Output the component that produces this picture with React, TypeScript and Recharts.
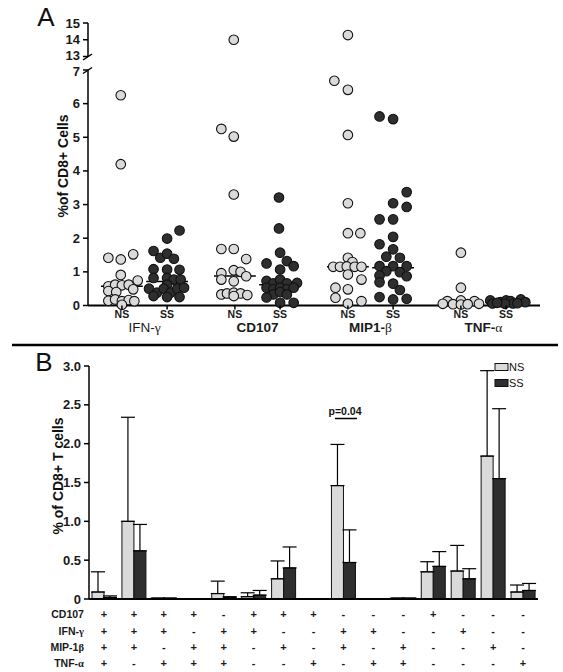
import React from "react";
import {
  Bar,
  BarChart,
  ErrorBar,
  ReferenceLine,
  Scatter,
  ScatterChart,
  XAxis,
  YAxis,
} from "recharts";

const FONT = "'Liberation Sans', Arial, sans-serif";
const GREEK = "'Liberation Serif', 'DejaVu Serif', serif";
const LIGHT = "#dadada";
const DARK = "#2e2e2e";

// ---------- panel A: single cytokine, dot plot ----------
// each point: [jitter position inside the group (0..1), % of CD8+ cells]
const ifnNS = [
  [0.29, 6.25], [0.29, 4.2], [0.18, 1.42], [0.29, 1.37], [0.4, 1.52], [0.29, 0.91],
  [0.44, 0.74], [0.18, 0.57], [0.24, 0.62], [0.3, 0.6], [0.36, 0.62], [0.18, 0.43],
  [0.25, 0.4], [0.4, 0.48], [0.18, 0.14], [0.24, 0.18], [0.3, 0.13], [0.36, 0.16],
  [0.41, 0.13], [0.3, 0.02],
];
const ifnSS = [
  [0.81, 2.23], [0.7, 1.99], [0.58, 1.62], [0.64, 1.42], [0.7, 1.54], [0.76, 1.39],
  [0.58, 1.08], [0.7, 1.07], [0.81, 1.06], [0.58, 0.82], [0.7, 0.82], [0.76, 0.77],
  [0.82, 0.77], [0.7, 0.62], [0.54, 0.5], [0.61, 0.38], [0.67, 0.5], [0.73, 0.38],
  [0.79, 0.5], [0.85, 0.53], [0.58, 0.28], [0.7, 0.25], [0.81, 0.25],
];
const cd107NS = [
  [0.29, 14.0], [0.18, 5.25], [0.29, 5.02], [0.29, 3.3], [0.18, 1.68], [0.29, 1.68],
  [0.4, 1.38], [0.29, 1.05], [0.18, 0.96], [0.35, 1.0], [0.4, 0.87], [0.18, 0.77],
  [0.29, 0.72], [0.18, 0.33], [0.23, 0.36], [0.29, 0.38], [0.35, 0.36], [0.41, 0.31],
  [0.29, 0.28],
];
const cd107SS = [
  [0.69, 3.21], [0.69, 2.29], [0.7, 1.57], [0.58, 1.25], [0.76, 1.32], [0.82, 1.17],
  [0.7, 1.07], [0.58, 0.73], [0.64, 0.66], [0.7, 0.77], [0.76, 0.66], [0.85, 0.67],
  [0.58, 0.53], [0.64, 0.48], [0.7, 0.53], [0.76, 0.48], [0.82, 0.53], [0.64, 0.33],
  [0.7, 0.4], [0.76, 0.33], [0.58, 0.24], [0.7, 0.08], [0.82, 0.08],
];
const mipNS = [
  [0.3, 14.28], [0.18, 6.68], [0.3, 6.41], [0.3, 5.07], [0.3, 3.04], [0.3, 2.15],
  [0.41, 2.15], [0.3, 1.42], [0.34, 1.29], [0.17, 1.15], [0.23, 1.15], [0.29, 1.16],
  [0.36, 1.15], [0.42, 1.15], [0.3, 0.92], [0.42, 0.77], [0.19, 0.53], [0.3, 0.48],
  [0.19, 0.23], [0.3, 0.06], [0.42, 0.13],
];
const mipSS = [
  [0.58, 5.62], [0.7, 5.54], [0.82, 3.37], [0.7, 3.04], [0.82, 2.93], [0.58, 2.56],
  [0.7, 2.56], [0.7, 2.04], [0.58, 1.82], [0.7, 1.67], [0.64, 1.45], [0.76, 1.42],
  [0.58, 1.17], [0.7, 1.17], [0.82, 1.17], [0.64, 1.02], [0.76, 0.99], [0.82, 0.87],
  [0.58, 0.89], [0.58, 0.69], [0.7, 0.65], [0.76, 0.46], [0.58, 0.25], [0.7, 0.18],
  [0.82, 0.2],
];
const tnfNS = [
  [0.3, 1.57], [0.3, 0.53], [0.18, 0.13], [0.3, 0.15], [0.42, 0.13], [0.14, 0.05],
  [0.23, 0.04], [0.3, 0.03], [0.36, 0.04], [0.46, 0.05],
];
const tnfSS = [
  [0.56, 0.15], [0.65, 0.1], [0.7, 0.15], [0.74, 0.13], [0.83, 0.18], [0.76, 0.06],
  [0.58, 0.06], [0.69, 0.05], [0.87, 0.1], [0.8, 0.07], [0.62, 0.08],
];
const medianNS = [0.57, 0.88, 1.15, 0.1];
const medianSS = [0.71, 0.62, 1.12, 0.1];

// ---------- panel B: cytokine combinations ----------
const cd107Row = ["+", "+", "+", "+", "-", "+", "+", "+", "-", "-", "-", "+", "-", "-", "-"];
const ifnRow = ["+", "+", "+", "-", "+", "+", "-", "-", "+", "+", "-", "-", "+", "-", "-"];
const mipRow = ["+", "+", "-", "+", "+", "-", "+", "-", "+", "-", "+", "-", "-", "+", "-"];
const tnfRow = ["+", "-", "+", "+", "+", "-", "-", "+", "-", "+", "+", "-", "-", "-", "+"];
const nsMean = [0.09, 1.0, 0.01, 0.005, 0.07, 0.03, 0.26, 0, 1.46, 0, 0.01, 0.35, 0.36, 1.84, 0.09];
const nsSd = [0.26, 1.34, 0, 0, 0.16, 0.05, 0.23, 0, 0.53, 0, 0, 0.13, 0.33, 1.1, 0.09];
const ssMean = [0.02, 0.62, 0.01, 0.005, 0.02, 0.05, 0.4, 0, 0.47, 0, 0.01, 0.42, 0.26, 1.55, 0.11];
const ssSd = [0.02, 0.34, 0, 0, 0.01, 0.06, 0.27, 0, 0.42, 0, 0, 0.19, 0.13, 0.9, 0.09];

const nsGroups = [ifnNS, cd107NS, mipNS, tnfNS];
const ssGroups = [ifnSS, cd107SS, mipSS, tnfSS];

const toPoints = (groups: number[][][]) =>
  groups.flatMap((pts, gi) => pts.map(([j, v]) => ({ x: gi + j, y: v })));

const nsPoints = toPoints(nsGroups);
const ssPoints = toPoints(ssGroups);

const barRows = nsMean.map((v, i) => ({
  combo: i,
  ns: v,
  ss: ssMean[i],
  nsErr: [0, nsSd[i]],
  ssErr: [0, ssSd[i]],
}));

const xTicksA = [0, 1, 2, 3].flatMap((g) => [g + 0.3, g + 0.5, g + 0.7]);

const dot = (fill: string) => (p: any) => (
  <circle cx={p.cx} cy={p.cy} r={4.8} fill={fill} stroke="#111" strokeWidth={1.1} />
);

function YTick(props: any) {
  const { x, y, payload, fmt, size } = props;
  const v = payload.value as number;
  // nudge the two labels on either side of the axis break apart
  const dy = v === 13 ? -1.5 : v === 7 ? 1.5 : 0;
  return (
    <text x={x} y={y + dy} textAnchor="end" dominantBaseline="central" fontSize={size || 13} fontWeight={700} fill="#1a1a1a" fontFamily={FONT}>
      {fmt ? fmt(v) : String(v)}
    </text>
  );
}

function groupLabel(gi: number) {
  if (gi === 0)
    return (
      <>
        <tspan fontWeight={400}>IFN-</tspan>
        <tspan fontFamily={GREEK} fontWeight={400}>γ</tspan>
      </>
    );
  if (gi === 1) return <tspan fontWeight={700}>CD107</tspan>;
  if (gi === 2)
    return (
      <>
        <tspan fontWeight={700}>MIP1-</tspan>
        <tspan fontFamily={GREEK} fontWeight={400}>β</tspan>
      </>
    );
  return (
    <>
      <tspan fontWeight={700}>TNF-</tspan>
      <tspan fontFamily={GREEK} fontWeight={400}>α</tspan>
    </>
  );
}

function GroupTick(props: any) {
  const { x, y, payload } = props;
  const v = payload.value as number;
  const gi = Math.floor(v);
  const f = Math.round((v - gi) * 10);
  if (f === 5) {
    return (
      <text x={x} y={y + 21} textAnchor="middle" dominantBaseline="central" fontSize={13.5} fill="#1a1a1a" fontFamily={FONT}>
        {groupLabel(gi)}
      </text>
    );
  }
  return (
    <g>
      <line x1={x} x2={x} y1={y} y2={y + 4} stroke="#000" strokeWidth={1.5} />
      <text x={x} y={y + 8} textAnchor="middle" dominantBaseline="central" fontSize={10.5} fontWeight={700} fill="#1a1a1a" fontFamily={FONT}>
        {f < 5 ? "NS" : "SS"}
      </text>
    </g>
  );
}

const rowNames = [
  <tspan key="c">CD107</tspan>,
  <>
    <tspan>IFN-</tspan>
    <tspan fontFamily={GREEK}>γ</tspan>
  </>,
  <>
    <tspan>MIP-1</tspan>
    <tspan fontFamily={GREEK}>β</tspan>
  </>,
  <>
    <tspan>TNF-</tspan>
    <tspan fontFamily={GREEK}>α</tspan>
  </>,
];
const rowOffsets = [15, 32, 48, 64];

function ComboTick(props: any) {
  const { x, y, payload } = props;
  const i = payload.value as number;
  const signs = [cd107Row[i], ifnRow[i], mipRow[i], tnfRow[i]];
  return (
    <g fontFamily={FONT} fontWeight={700} fill="#1a1a1a">
      {signs.map((s, r) => (
        <text key={r} x={x} y={y + rowOffsets[r]} textAnchor="middle" dominantBaseline="central" fontSize={11}>
          {s}
        </text>
      ))}
      {i === 0 &&
        rowNames.map((n, r) => (
          <text key={"n" + r} x={x - 20} y={y + rowOffsets[r]} textAnchor="end" dominantBaseline="central" fontSize={10.5}>
            {n}
          </text>
        ))}
    </g>
  );
}

const fmtB = (v: number) => (v === 0 ? "0" : v.toFixed(1));

export default function App() {
  const lowNS = nsPoints.filter((p) => p.y <= 7);
  const lowSS = ssPoints.filter((p) => p.y <= 7);
  const highNS = nsPoints.filter((p) => p.y > 7);
  const highSS = ssPoints.filter((p) => p.y > 7);

  return (
    <div style={{ position: "absolute", left: 0, top: 0, width: 563, height: 672, background: "#fff", fontFamily: FONT }}>
      {/* panel A, lower segment 0-7 */}
      <div style={{ position: "absolute", left: 0, top: 0 }}>
        <ScatterChart width={563} height={340} margin={{ top: 70, right: 23, bottom: 4.5, left: 48 }}>
          <XAxis
            type="number"
            dataKey="x"
            domain={[0, 4]}
            ticks={xTicksA}
            interval={0}
            tick={<GroupTick />}
            tickLine={false}
            tickSize={0}
            tickMargin={0}
            height={30}
            axisLine={{ stroke: "#000", strokeWidth: 2 }}
          />
          <YAxis
            type="number"
            dataKey="y"
            domain={[0, 7]}
            ticks={[0, 1, 2, 3, 4, 5, 6, 7]}
            interval={0}
            width={40}
            tick={<YTick />}
            tickSize={5}
            tickMargin={3}
            axisLine={{ stroke: "#000", strokeWidth: 1.5 }}
            tickLine={{ stroke: "#000", strokeWidth: 1.5 }}
          />
          <Scatter data={lowNS} shape={dot(LIGHT)} isAnimationActive={false} />
          <Scatter data={lowSS} shape={dot(DARK)} isAnimationActive={false} />
          {medianNS.map((m, g) => (
            <ReferenceLine key={"mn" + g} segment={[{ x: g + 0.115, y: m }, { x: g + 0.485, y: m }]} stroke="#000" strokeWidth={1.5} />
          ))}
          {medianSS.map((m, g) => (
            <ReferenceLine key={"ms" + g} segment={[{ x: g + 0.515, y: m }, { x: g + 0.885, y: m }]} stroke="#000" strokeWidth={1.5} />
          ))}
        </ScatterChart>
      </div>
      {/* panel A, upper segment 13-15 */}
      <div style={{ position: "absolute", left: 0, top: 0 }}>
        <ScatterChart width={563} height={80} margin={{ top: 23, right: 23, bottom: 23.5, left: 48 }}>
          <XAxis type="number" dataKey="x" domain={[0, 4]} hide height={0} />
          <YAxis
            type="number"
            dataKey="y"
            domain={[13, 15]}
            ticks={[13, 14, 15]}
            interval={0}
            width={40}
            tick={<YTick />}
            tickSize={5}
            tickMargin={3}
            axisLine={{ stroke: "#000", strokeWidth: 1.5 }}
            tickLine={{ stroke: "#000", strokeWidth: 1.5 }}
          />
          <Scatter data={highNS} shape={dot(LIGHT)} isAnimationActive={false} />
          <Scatter data={highSS} shape={dot(DARK)} isAnimationActive={false} />
        </ScatterChart>
      </div>

      {/* panel B */}
      <div style={{ position: "absolute", left: 0, top: 350 }}>
        <BarChart width={563} height={322} data={barRows} margin={{ top: 16, right: 25, bottom: 3, left: 49 }} barGap={0} barSize={12}>
          <XAxis
            dataKey="combo"
            interval={0}
            tick={<ComboTick />}
            tickLine={false}
            tickSize={0}
            tickMargin={0}
            height={70}
            axisLine={{ stroke: "#000", strokeWidth: 2 }}
          />
          <YAxis
            domain={[0, 3]}
            ticks={[0, 0.5, 1, 1.5, 2, 2.5, 3]}
            interval={0}
            width={40}
            tick={<YTick fmt={fmtB} size={13} />}
            tickSize={5}
            tickMargin={3}
            axisLine={{ stroke: "#000", strokeWidth: 1.5 }}
            tickLine={{ stroke: "#000", strokeWidth: 1.5 }}
          />
          <Bar dataKey="ns" fill={LIGHT} stroke="#111" strokeWidth={1} isAnimationActive={false}>
            <ErrorBar dataKey="nsErr" width={7} stroke="#000" strokeWidth={1.2} direction="y" />
          </Bar>
          <Bar dataKey="ss" fill={DARK} stroke="#111" strokeWidth={1} isAnimationActive={false}>
            <ErrorBar dataKey="ssErr" width={7} stroke="#000" strokeWidth={1.2} direction="y" />
          </Bar>
        </BarChart>
      </div>

      {/* annotations */}
      <svg width={563} height={672} style={{ position: "absolute", left: 0, top: 0, pointerEvents: "none" }} fontFamily={FONT}>
        <text x={46} y={17} textAnchor="middle" dominantBaseline="central" fontSize={26} fill="#111">A</text>
        <text x={44} y={362} textAnchor="middle" dominantBaseline="central" fontSize={26} fill="#111">B</text>
        <line x1={83} y1={60} x2={92} y2={54} stroke="#000" strokeWidth={1.5} />
        <line x1={83} y1={73.5} x2={92} y2={67.5} stroke="#000" strokeWidth={1.5} />
        <text transform="translate(63,166) rotate(-90)" textAnchor="middle" dominantBaseline="central" fontSize={14} fontWeight={700} fill="#111">
          %of CD8+ Cells
        </text>
        <text transform="translate(58,476) rotate(-90)" textAnchor="middle" dominantBaseline="central" fontSize={14} fontWeight={700} fill="#111">
          % of CD8+ T cells
        </text>
        <line x1={12} y1={345} x2={558} y2={345} stroke="#000" strokeWidth={2.5} />
        <text x={345} y={411} textAnchor="middle" dominantBaseline="central" fontSize={10.5} fontWeight={700} fill="#111">p=0.04</text>
        <line x1={335} y1={418.5} x2={357} y2={418.5} stroke="#000" strokeWidth={1.5} />
        <rect x={495} y={363.5} width={13} height={7} fill={LIGHT} stroke="#111" strokeWidth={1} />
        <text x={509} y={367} dominantBaseline="central" fontSize={11} fill="#111">NS</text>
        <rect x={495} y={379.5} width={13} height={7} fill={DARK} stroke="#111" strokeWidth={1} />
        <text x={509} y={383} dominantBaseline="central" fontSize={11} fill="#111">SS</text>
      </svg>
    </div>
  );
}
